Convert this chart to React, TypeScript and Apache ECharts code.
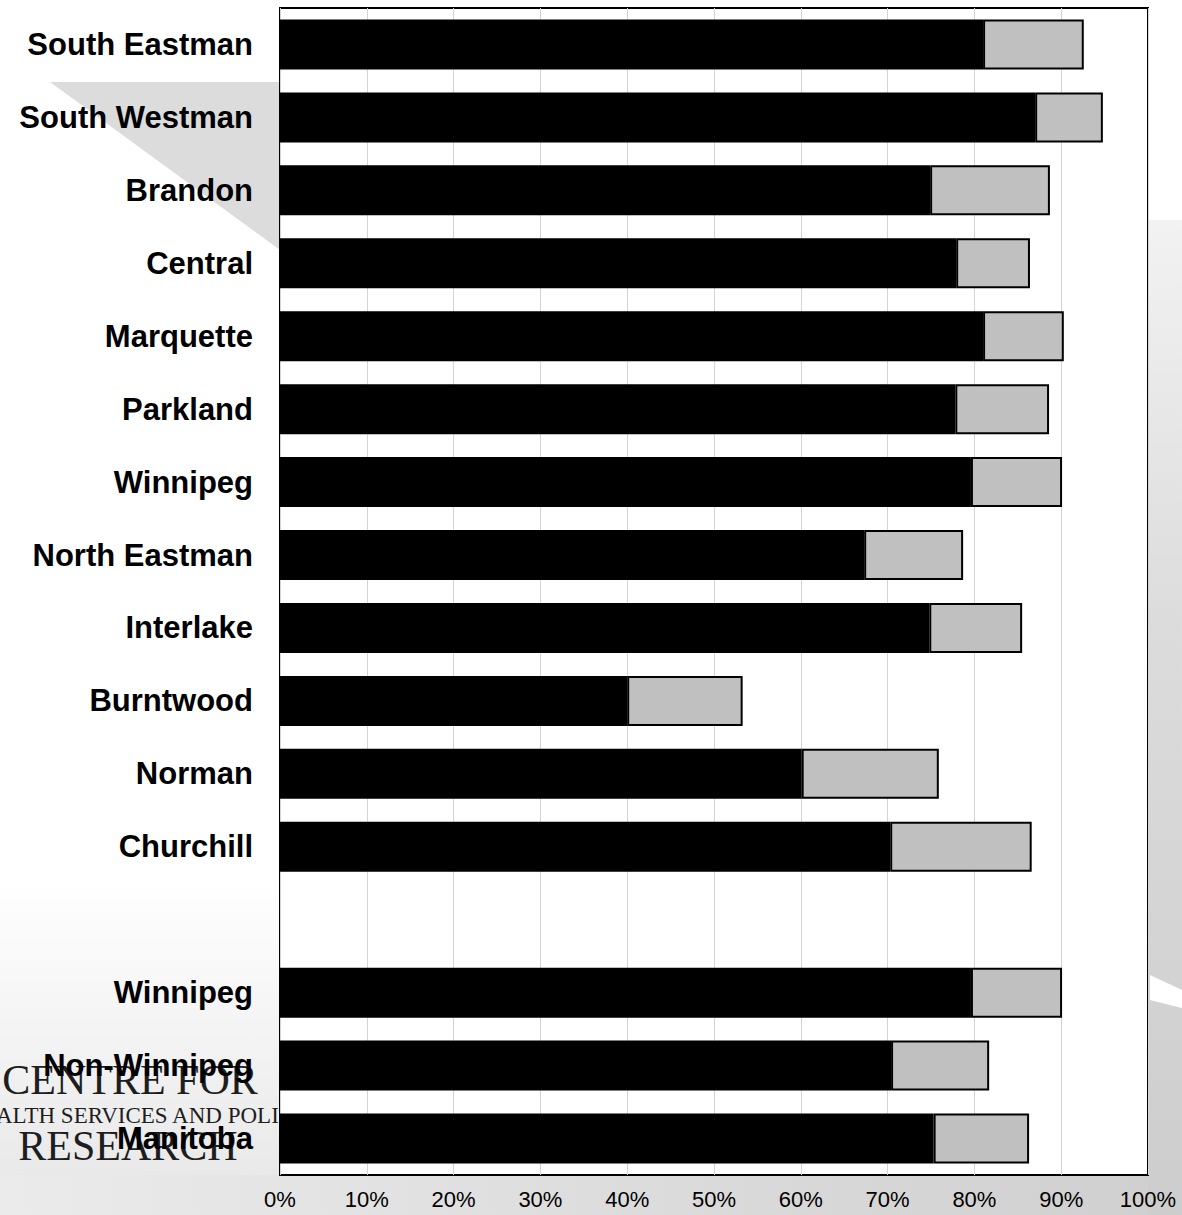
import React, { useEffect, useRef } from "react";
import * as echarts from "echarts";

const categories = [
  "South Eastman",
  "South Westman",
  "Brandon",
  "Central",
  "Marquette",
  "Parkland",
  "Winnipeg",
  "North Eastman",
  "Interlake",
  "Burntwood",
  "Norman",
  "Churchill",
  "",
  "Winnipeg",
  "Non-Winnipeg",
  "Manitoba",
];

// black segment end (%)
const blackValues = [81.0, 87.0, 74.9, 77.9, 81.0, 77.8, 79.6, 67.3, 74.8, 40.0, 60.1, 70.3, null, 79.6, 70.4, 75.3];
// total bar end (%)
const totalValues = [92.6, 94.8, 88.7, 86.4, 90.3, 88.6, 90.1, 78.7, 85.5, 53.3, 75.9, 86.6, null, 90.1, 81.7, 86.3];

const xTicks = [0, 10, 20, 30, 40, 50, 60, 70, 80, 90, 100];

export default function App() {
  const ref = useRef<HTMLDivElement>(null);
  useEffect(() => {
    if (!ref.current) return;
    const chart = echarts.init(ref.current, undefined, { renderer: "svg" });
    const greyValues = totalValues.map((t, i) =>
      t == null || blackValues[i] == null ? null : +(t - (blackValues[i] as number)).toFixed(1)
    );
    chart.setOption({
      animation: false,
      backgroundColor: "#ffffff",
      graphic: [
        {
          type: "polygon",
          z: -10,
          shape: { points: [[50, 82], [280, 82], [280, 250]] },
          style: { fill: "#dcdcdc" },
        },
        {
          type: "rect",
          z: -10,
          shape: { x: 0, y: 880, width: 280, height: 335 },
          style: {
            fill: new echarts.graphic.LinearGradient(0, 0, 0, 1, [
              { offset: 0, color: "#ffffff" },
              { offset: 1, color: "#e6e6e6" },
            ]),
          },
        },
        {
          type: "rect",
          z: -10,
          shape: { x: 0, y: 1175, width: 1182, height: 40 },
          style: {
            fill: new echarts.graphic.LinearGradient(0, 0, 1, 0, [
              { offset: 0, color: "#ebebeb" },
              { offset: 1, color: "#cfcfcf" },
            ]),
          },
        },
        {
          type: "rect",
          z: -10,
          shape: { x: 1148, y: 220, width: 34, height: 995 },
          style: {
            fill: new echarts.graphic.LinearGradient(0, 0, 0, 1, [
              { offset: 0, color: "#f2f2f2" },
              { offset: 0.4, color: "#dcdcdc" },
              { offset: 1, color: "#cdcdcd" },
            ]),
          },
        },
        {
          type: "polygon",
          z: -9,
          shape: { points: [[1150, 975], [1182, 990], [1182, 1008], [1150, 1000]] },
          style: { fill: "#ffffff" },
        },
        {
          type: "text",
          z: -5,
          x: 130,
          y: 1080,
          style: {
            text: "CENTRE FOR",
            font: "42px 'Liberation Serif', 'DejaVu Serif', serif",
            fill: "#1e1e1e",
            align: "center",
            verticalAlign: "middle",
          },
        },
        {
          type: "text",
          z: -5,
          x: 138,
          y: 1115,
          style: {
            text: "HEALTH SERVICES AND POLICY",
            font: "23px 'Liberation Serif', 'DejaVu Serif', serif",
            fill: "#1e1e1e",
            align: "center",
            verticalAlign: "middle",
          },
        },
        {
          type: "text",
          z: -5,
          x: 128,
          y: 1146,
          style: {
            text: "RESEARCH",
            font: "42px 'Liberation Serif', 'DejaVu Serif', serif",
            fill: "#1e1e1e",
            align: "center",
            verticalAlign: "middle",
          },
        },
      ],
      grid: {
        left: 280,
        right: 34,
        top: 8,
        bottom: 40,
        show: true,
        backgroundColor: "#ffffff",
        borderColor: "#000000",
        borderWidth: 2,
        containLabel: false,
      },
      xAxis: {
        type: "value",
        min: 0,
        max: 100,
        interval: 10,
        axisLine: { show: false },
        axisTick: { show: false },
        splitLine: { show: true, lineStyle: { color: "#d4d4d4", width: 1 } },
        axisLabel: {
          formatter: (v: number) => (xTicks.includes(v) ? v + "%" : ""),
          fontFamily: "'Liberation Sans', Arial, sans-serif",
          fontSize: 22,
          color: "#000000",
          margin: 13,
        },
      },
      yAxis: {
        type: "category",
        data: categories,
        inverse: true,
        axisLine: { show: false },
        axisTick: { show: false },
        splitLine: { show: false },
        axisLabel: {
          fontFamily: "'Liberation Sans', Arial, sans-serif",
          fontWeight: "bold",
          fontSize: 31,
          color: "#000000",
          margin: 27,
        },
      },
      series: [
        {
          type: "bar",
          stack: "total",
          data: blackValues,
          barWidth: 50,
          itemStyle: { color: "#000000", borderColor: "#000000", borderWidth: 1.5 },
        },
        {
          type: "bar",
          stack: "total",
          data: greyValues,
          barWidth: 50,
          itemStyle: { color: "#c0c0c0", borderColor: "#000000", borderWidth: 2 },
        },
      ],
    });
    return () => chart.dispose();
  }, []);
  return (
    <div
      ref={ref}
      style={{ position: "fixed", left: 0, top: 0, width: 1182, height: 1215 }}
    />
  );
}
